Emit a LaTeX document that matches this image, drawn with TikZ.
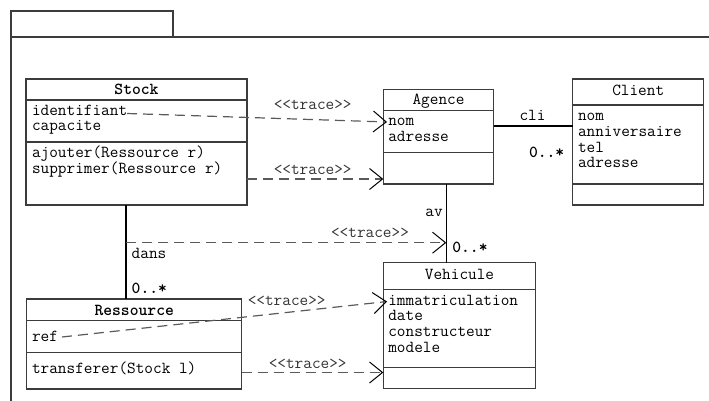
\documentclass[tikz,border=0pt]{standalone}
\usetikzlibrary{arrows.meta}
\definecolor{boxc}{RGB}{60,60,60}
\definecolor{dashc}{RGB}{90,90,90}
\tikzset{
  every node/.style={inner sep=0pt, outer sep=0pt},
  mono/.style={font=\ttfamily\fontsize{16.8}{16}\selectfont},
  txt/.style={mono, anchor=base west},
  hdr/.style={mono, anchor=base},
  bhdr/.style={font=\ttfamily\bfseries\fontsize{16.8}{16}\selectfont, anchor=base},
  mult/.style={font=\ttfamily\bfseries\fontsize{16.8}{16}\selectfont, anchor=base west},
  tlabel/.style={mono, anchor=base, text=black!80},
  classbox/.style={draw=boxc, line width=1.4pt, anchor=north west},
  sepline/.style={draw=boxc, line width=1.4pt},
  assoc/.style={draw=black, line width=1.1pt},
  trace/.style={draw=dashc, line width=1.2pt, dash pattern=on 10pt off 6pt,
    -{Straight Barb[length=13pt,width=21pt,line width=1pt,color=black]}},
}
\begin{document}
\begin{tikzpicture}[x=1pt,y=-1pt]
\useasboundingbox (0,0) rectangle (709,401);
% frame
\draw[boxc, line width=1.4pt] (11,37) rectangle (173,11);
\draw[boxc, line width=1.4pt] (11,11) -- (11,405);
\draw[boxc, line width=1.4pt] (11,37) -- (712,37);

% Stock
\node[classbox, minimum width=221pt, minimum height=126pt] (stock) at (26,79) {};
\draw[sepline] (26,100) -- (247,100);
\draw[sepline] (26,142) -- (247,142);
\node[bhdr] (stockh) at (136.5,95) {Stock};
\node[txt] (sid) at (32,115.5) {identifiant};
\node[txt] (scap) at (32,131) {capacite};
\node[txt] (saj) at (32,157.5) {ajouter(Ressource r)};
\node[txt] (ssup) at (32,173.5) {supprimer(Ressource r)};

% Agence
\node[classbox, minimum width=110.4pt, minimum height=94.7pt] (agence) at (383.3,89.3) {};
\draw[sepline] (383.3,110.7) -- (493.7,110.7);
\draw[sepline] (383.3,152.7) -- (493.7,152.7);
\node[hdr] (agh) at (438.5,105) {Agence};
\node[txt] (anom) at (388.3,125.7) {nom};
\node[txt] (aadr) at (388.3,141.5) {adresse};

% Client
\node[classbox, minimum width=131pt, minimum height=126pt] (client) at (572.7,79) {};
\draw[sepline] (572.7,105) -- (703.7,105);
\draw[sepline] (572.7,184) -- (703.7,184);
\node[hdr] (clh) at (638.2,96) {Client};
\node[txt] (cnom) at (578,121) {nom};
\node[txt] (cann) at (578,136.6) {anniversaire};
\node[txt] (ctel) at (578,152.2) {tel};
\node[txt] (cadr) at (578,167.8) {adresse};

% Vehicule
\node[classbox, minimum width=152.4pt, minimum height=126pt] (vehic) at (383.3,262.7) {};
\draw[sepline] (383.3,289.3) -- (535.7,289.3);
\draw[sepline] (383.3,367.7) -- (535.7,367.7);
\node[hdr] (vh) at (459.5,279.3) {Vehicule};
\node[txt] (vimm) at (388.3,305) {immatriculation};
\node[txt] (vdate) at (388.3,320.7) {date};
\node[txt] (vcons) at (388.3,336.4) {constructeur};
\node[txt] (vmod) at (388.3,352.1) {modele};

% Ressource
\node[classbox, minimum width=215pt, minimum height=90pt] (ress) at (26.7,299) {};
\draw[sepline] (26.7,320.7) -- (241.7,320.7);
\draw[sepline] (26.7,352.3) -- (241.7,352.3);
\node[bhdr] (rh) at (134.2,315) {Ressource};
\node[txt] (rref) at (32,341.7) {ref};
\node[txt] (rtr) at (32,373.3) {transferer(Stock l)};

% associations
\coordinate (acr) at (493.7,126);
\coordinate (ccl) at (572.7,126);
\draw[assoc] (acr) -- (ccl);
\node[hdr] (cli) at (532.5,121) {cli};
\node[mult] (m1) at (529,157.3) {0..*};

\coordinate (agb) at (446.3,184);
\coordinate (vet) at (446.3,262.7);
\draw[assoc] (agb) -- (vet);
\node[hdr] (av) at (434,216.5) {av};
\node[mult] (m2) at (452.3,252.3) {0..*};

\coordinate (stb) at (126,205);
\coordinate (rst) at (126,299);
\draw[assoc] (stb) -- (rst);
\node[txt] (dans) at (131.7,258.3) {dans};
\node[mult] (m3) at (131.7,293.3) {0..*};

% trace dependencies
\coordinate (t1s) at (127,113.5);
\coordinate (t1e) at (387,122);
\draw[trace] (t1s) -- (t1e);
\node[tlabel] (l1) at (312.7,110) {<<trace>>};

\coordinate (t2s) at (247,179);
\coordinate (t2e) at (383.3,179);
\draw[trace] (t2s) -- (t2e);
\node[tlabel] (l2) at (312.7,174) {<<trace>>};

\coordinate (t3s) at (126,242.7);
\coordinate (t3e) at (446.3,242.7);
\draw[trace] (t3s) -- (t3e);
\node[tlabel] (l3) at (370,237.3) {<<trace>>};

\coordinate (t4s) at (62,337);
\coordinate (t4e) at (387,301.5);
\draw[trace] (t4s) -- (t4e);
\node[tlabel] (l4) at (286.7,305) {<<trace>>};

\coordinate (t5s) at (241.7,372.5);
\coordinate (t5e) at (383.3,372.5);
\draw[trace] (t5s) -- (t5e);
\node[tlabel] (l5) at (307.7,368) {<<trace>>};
\end{tikzpicture}
\end{document}
